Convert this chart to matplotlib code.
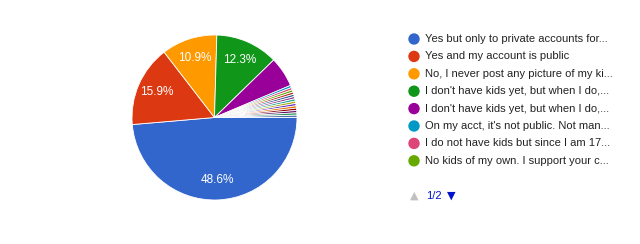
import matplotlib
matplotlib.use('Agg')
import matplotlib.pyplot as plt

# response counts (n = 220), in legend order
counts = [107, 35, 24, 27, 13, 1, 1, 1, 1, 1, 1, 1, 1, 1, 1, 1, 1, 1, 1]
colors = ['#3366cc', '#dc3912', '#ff9900', '#109618', '#990099', '#0099c6',
          '#dd4477', '#66aa00', '#b82e2e', '#316395', '#994499', '#22aa99',
          '#aaaa11', '#6633cc', '#e67300', '#8b0707', '#651067', '#329262',
          '#5574a6']
legend_labels = [
    'Yes but only to private accounts for...',
    'Yes and my account is public',
    'No, I never post any picture of my ki...',
    "I don't have kids yet, but when I do,...",
    "I don't have kids yet, but when I do,...",
    "On my acct, it's not public. Not man...",
    'I do not have kids but since I am 17...',
    'No kids of my own. I support your c...',
]
page_text = '1/2'

fig = plt.figure(figsize=(6.4, 2.44), dpi=100)
ax = fig.add_axes([132/640, 44/244, 165/640, 165/244])

def pct(p):
    return '%.1f%%' % p if p > 10 else ''

wedges, texts, autotexts = ax.pie(counts, colors=colors, startangle=0, counterclock=False,
                                  autopct=pct, pctdistance=0.76,
                                  wedgeprops=dict(edgecolor='white', linewidth=0.6))
for t in autotexts:
    t.set_color('white')
    t.set_fontsize(8.5)
    t.set_family('Liberation Sans')
ax.set_xlim(-1, 1)
ax.set_ylim(-1, 1)
ax.set_aspect('equal')

# legend drawn by hand
y0 = 1 - 39/244
dy = 17.4/244
for i, lab in enumerate(legend_labels):
    y = y0 - i*dy
    fig.patches.append(matplotlib.patches.Ellipse((414/640, y), 10/640, 10/244,
                       transform=fig.transFigure, color=colors[i]))
    fig.text(425/640, y, lab, fontsize=8, color='#222222', va='center',
             family='Liberation Sans')

yp = 1 - 196/244
fig.text(410/640, yp, '\u25B2', fontsize=8, color='#c0c0c0', va='center', family='DejaVu Sans')
fig.text(426/640, yp, page_text, fontsize=8, color='#0011cc', va='center', family='Liberation Sans')
fig.text(447/640, yp, '\u25BC', fontsize=8, color='#0011cc', va='center', family='DejaVu Sans')

fig.savefig('out.png', dpi=100)
